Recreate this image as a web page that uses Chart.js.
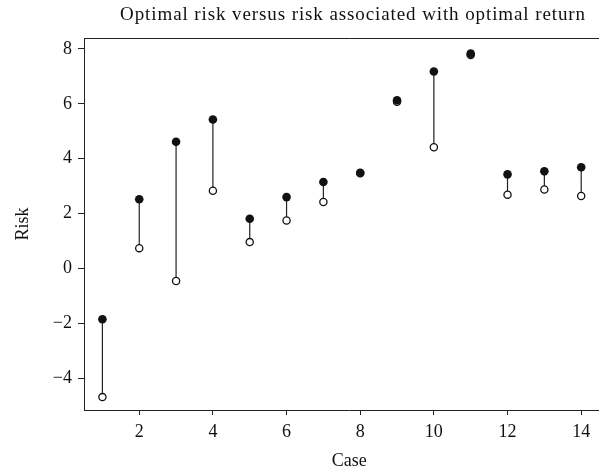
<!DOCTYPE html>
<html lang="en">
<head>
  <meta charset="UTF-8">
  <title>Optimal risk</title>
  <script src="https://cdn.jsdelivr.net/npm/chart.js@4.4.1/dist/chart.umd.min.js"></script>
  <style>
    html, body {
      margin: 0;
      padding: 0;
      background: white;
      overflow: hidden;
    }
    /* frame runs past the right edge of the window, like the cropped original */
    .chart_container {
      width: 620px;
      height: 472px;
    }
  </style>
</head>
<body>
  <div class="chart_container">
    <canvas id="myChart"></canvas>
  </div>
  <script>
    // case number, risk (filled = optimal risk, open = risk at optimal return)
    const cases = [1, 2, 3, 4, 5, 6, 7, 8, 9, 10, 11, 12, 13, 14];
    const optimalRisk = [-1.85, 2.52, 4.62, 5.43, 1.81, 2.6, 3.15, 3.49, 6.13, 7.18, 7.83, 3.43, 3.54, 3.69];
    const returnRisk = [-4.69, 0.74, -0.46, 2.83, 0.96, 1.75, 2.42, 3.47, 6.08, 4.42, 7.78, 2.69, 2.88, 2.64];
    const xTicks = [2, 4, 6, 8, 10, 12, 14];
    const yTicks = [-4, -2, 0, 2, 4, 6, 8];
    const titleText = 'Optimal risk versus risk associated with optimal return';

    const font = 'Liberation Serif';

    // stems between the two points + top frame line + title
    const stems = {
      id: 'stems',
      beforeDatasetsDraw(chart) {
        const ctx = chart.ctx;
        const xs = chart.scales.x;
        const ys = chart.scales.y;
        ctx.save();
        ctx.strokeStyle = '#222';
        ctx.lineWidth = 1.2;
        for (let i = 0; i < cases.length; i++) {
          const px = xs.getPixelForValue(cases[i]);
          ctx.beginPath();
          ctx.moveTo(px, ys.getPixelForValue(optimalRisk[i]));
          ctx.lineTo(px, ys.getPixelForValue(returnRisk[i]));
          ctx.stroke();
        }
        ctx.restore();
      },
      afterDraw(chart) {
        const ctx = chart.ctx;
        const a = chart.chartArea;
        ctx.save();
        ctx.strokeStyle = '#222';
        ctx.lineWidth = 1;
        ctx.beginPath();
        ctx.moveTo(a.left, a.top + 0.5);
        ctx.lineTo(a.right, a.top + 0.5);
        ctx.stroke();
        ctx.fillStyle = '#111';
        ctx.font = '19px "' + font + '"';
        ctx.letterSpacing = '0.9px';
        ctx.textAlign = 'center';
        ctx.textBaseline = 'middle';
        ctx.fillText(titleText, 353, 15);
        ctx.restore();
      }
    };

    const filledData = cases.map((c, i) => ({ x: c, y: optimalRisk[i] }));
    const openData = cases.map((c, i) => ({ x: c, y: returnRisk[i] }));

    new Chart(document.getElementById('myChart'), {
      type: 'scatter',
      data: {
        datasets: [{
          label: 'Risk at optimal return',
          data: openData,
          pointRadius: 3.6,
          pointBackgroundColor: 'white',
          pointBorderColor: '#111',
          pointBorderWidth: 1.3,
          order: 2
        }, {
          label: 'Optimal risk',
          data: filledData,
          pointRadius: 4.3,
          pointBackgroundColor: '#111',
          pointBorderColor: '#111',
          pointBorderWidth: 0,
          order: 1
        }]
      },
      options: {
        responsive: true,
        maintainAspectRatio: false,
        animation: false,
        events: [],
        layout: {
          padding: { top: 38, right: 0, left: 0, bottom: 0 }
        },
        plugins: {
          legend: { display: false },
          tooltip: { enabled: false }
        },
        scales: {
          x: {
            type: 'linear',
            min: 0.5,
            max: 14.91,
            afterBuildTicks(scale) {
              scale.ticks = xTicks.map(v => ({ value: v }));
            },
            afterFit(scale) {
              scale.height = 62;
            },
            grid: {
              drawOnChartArea: false,
              drawTicks: true,
              tickLength: 5,
              color: '#222'
            },
            border: { color: '#222', width: 1 },
            ticks: {
              color: '#111',
              padding: 6,
              maxRotation: 0,
              font: { family: font, size: 18 }
            },
            title: {
              display: true,
              text: 'Case',
              color: '#111',
              padding: { top: 0, bottom: 0 },
              font: { family: font, size: 18 }
            }
          },
          y: {
            type: 'linear',
            min: -5.16,
            max: 8.4,
            afterBuildTicks(scale) {
              scale.ticks = yTicks.map(v => ({ value: v }));
            },
            afterFit(scale) {
              scale.width = 84;
            },
            grid: {
              drawOnChartArea: false,
              drawTicks: true,
              tickLength: 6,
              color: '#222'
            },
            border: { color: '#222', width: 1 },
            ticks: {
              color: '#111',
              padding: 6,
              font: { family: font, size: 18 },
              callback: v => (v < 0 ? '\u2212' + Math.abs(v) : String(v))
            },
            title: {
              display: true,
              text: 'Risk',
              color: '#111',
              padding: { top: 12, bottom: 0 },
              font: { family: font, size: 18 }
            }
          }
        }
      },
      plugins: [stems]
    });
  </script>
</body>
</html>
